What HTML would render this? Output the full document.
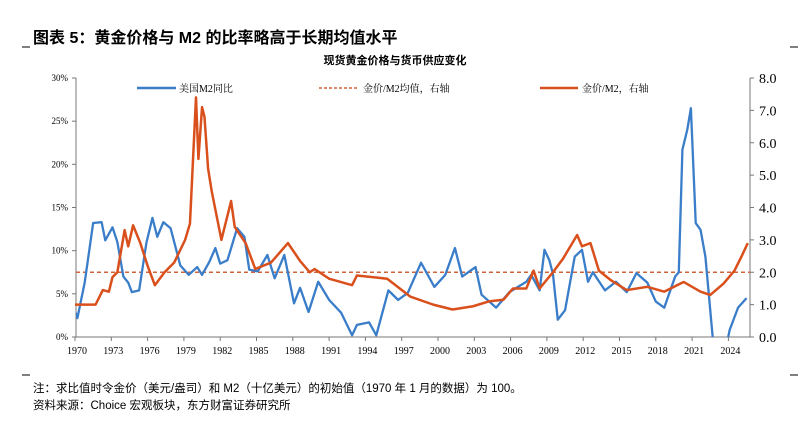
<!DOCTYPE html>
<html><head><meta charset="utf-8"><style>
body{margin:0;background:#fff;width:812px;height:422px;overflow:hidden;font-family:"Liberation Serif","Noto Serif CJK SC",serif}
svg{position:absolute;left:0;top:0}
</style></head><body>
<svg id="c" width="812" height="422">
<text x="33" y="43" font-size="16" font-weight="bold" font-family="Liberation Sans,Noto Sans CJK SC,sans-serif">图表 5：黄金价格与 M2 的比率略高于长期均值水平</text>
<line x1="22" y1="47" x2="30" y2="47" stroke="#000"/>
<line x1="790" y1="47" x2="798" y2="47" stroke="#000"/>
<text x="395" y="64" font-size="11" font-weight="bold" text-anchor="middle" font-family="Liberation Sans,Noto Sans CJK SC,sans-serif">现货黄金价格与货币供应变化</text>
<g>
<line x1="137" y1="88" x2="176" y2="88" stroke="#3a7dc9" stroke-width="2.5"/>
<text x="179" y="92" font-size="10">美国M2同比</text>
<line x1="319" y1="88" x2="358" y2="88" stroke="#d0653a" stroke-width="1.5" stroke-dasharray="3,2"/>
<text x="363" y="92" font-size="10">金价/M2均值，右轴</text>
<line x1="540" y1="88" x2="578" y2="88" stroke="#d9501c" stroke-width="2.5"/>
<text x="582" y="92" font-size="10">金价/M2，右轴</text>
</g>
<g id="plot"></g>
<line x1="22" y1="375" x2="30" y2="375" stroke="#000"/>
<line x1="790" y1="375" x2="798" y2="375" stroke="#000"/>
<text x="33" y="392" font-size="11.5" font-family="Liberation Sans,Noto Sans CJK SC,sans-serif">注：求比值时令金价（美元/盎司）和 M2（十亿美元）的初始值（1970 年 1 月的数据）为 100。</text>
<text x="33" y="409" font-size="11.5" font-family="Liberation Sans,Noto Sans CJK SC,sans-serif">资料来源：Choice 宏观板块，东方财富证券研究所</text>
</svg>
<script>
const xTicks=[1970,1973,1976,1979,1982,1985,1988,1991,1994,1997,2000,2003,2006,2009,2012,2015,2018,2021,2024];
const leftTicks=[0,5,10,15,20,25,30];
const rightTicks=[0,1,2,3,4,5,6,7,8];
const meanRatio=2.0;
const m2Years=[1970,1970.2,1970.8,1971.5,1972.2,1972.5,1973.1,1973.5,1974,1974.4,1974.7,1975.3,1975.9,1976.4,1976.8,1977.3,1977.9,1978.7,1979.4,1980.1,1980.5,1981.1,1981.6,1982,1982.6,1983.4,1984,1984.4,1985.1,1985.9,1986.5,1987.3,1988.1,1988.6,1989.3,1990.1,1991,1992,1992.9,1993.3,1994.3,1994.9,1995.9,1996.7,1997.5,1998.6,1999.7,2000.6,2001.4,2002,2003.1,2003.6,2004.8,2005.9,2007.3,2007.7,2008.4,2008.8,2009.2,2009.5,2009.9,2010.5,2011.3,2011.9,2012.4,2012.8,2013.8,2014.7,2015.6,2016.4,2017.3,2018,2018.7,2019.6,2019.9,2020.2,2020.6,2020.9,2021.3,2021.7,2022.1,2022.7,2023.2,2023.7,2024.1,2024.8,2025.5];
const m2Values=[3,2.2,6.3,13.2,13.3,11.2,12.7,11,7,6.3,5.2,5.4,10.9,13.8,11.6,13.3,12.6,8.3,7.2,8.1,7.2,8.7,10.3,8.5,8.9,12.6,11.6,7.8,7.6,9.5,6.8,9.5,3.9,5.7,2.9,6.4,4.3,2.8,0.2,1.4,1.7,0.2,5.4,4.3,5.1,8.6,5.8,7.2,10.3,7,8.1,4.9,3.4,5.2,6.4,7.2,5.4,10.1,8.9,7.3,2,3.1,9.3,10.1,6.4,7.5,5.4,6.4,5.2,7.4,6.3,4.1,3.4,7,7.5,21.7,24,26.5,13.2,12.4,9.3,0,-3,-2,0.8,3.4,4.5];
const ratioYears=[1970,1971.7,1972.3,1972.8,1973.1,1973.5,1974.1,1974.4,1974.8,1975.4,1976,1976.6,1977.4,1978.2,1979.1,1979.5,1980,1980.2,1980.5,1980.7,1981,1981.3,1982.1,1982.9,1983.2,1984.1,1984.9,1986.2,1987.6,1988.6,1989.4,1989.8,1991,1992.9,1993.3,1995.8,1997.7,1999.6,2001.2,2002.9,2004.2,2005.4,2006.2,2006.8,2007.3,2007.9,2008.4,2009.5,2010.3,2011.1,2011.5,2011.9,2012.6,2013.3,2014.3,2015.6,2017.3,2018.7,2020.3,2021.7,2022.5,2023.6,2024.5,2025.1,2025.6];
const ratioValues=[1.0,1.0,1.45,1.4,1.85,2.0,3.3,2.8,3.45,2.9,2.2,1.6,2.0,2.3,3.0,3.5,7.4,5.5,7.1,6.8,5.2,4.5,3.0,4.2,3.4,2.9,2.1,2.3,2.9,2.35,2.0,2.1,1.8,1.6,1.9,1.8,1.25,1.0,0.85,0.95,1.1,1.15,1.5,1.5,1.5,2.05,1.5,2.0,2.4,2.9,3.15,2.8,2.9,2.05,1.75,1.45,1.55,1.4,1.7,1.4,1.3,1.65,2.05,2.5,2.9];
const L=76,R=750,T=78,B=337;
const X=y=>75+(y-1970)*12.1;
const YL=v=>B-v/30*(B-T);
const YR=v=>B-v/8*(B-T);
const g=document.getElementById('plot');const NS='http://www.w3.org/2000/svg';
function mk(t,a,p){const e=document.createElementNS(NS,t);for(const k in a)e.setAttribute(k,a[k]);(p||g).appendChild(e);return e;}
const defs=mk('defs',{});const cp=mk('clipPath',{id:'clip'},defs);mk('rect',{x:L,y:T-10,width:R-L,height:B-T+10},cp);
let e;
e=mk('line',{x1:L,y1:T,x2:L,y2:B,stroke:'#777'});


e=mk('line',{x1:R,y1:T,x2:R,y2:B,stroke:'#777'});


e=mk('line',{x1:L,y1:B,x2:R,y2:B,stroke:'#777'});


leftTicks.forEach(v=>{mk('line',{x1:L-4,y1:YL(v),x2:L,y2:YL(v),stroke:'#777'});
e=mk('text',{x:L-8,y:YL(v)+3,'font-size':9,'text-anchor':'end'});e.textContent=v+'%';

});
rightTicks.forEach(v=>{mk('line',{x1:R,y1:YR(v),x2:R+4,y2:YR(v),stroke:'#777'});
e=mk('text',{x:R+9,y:YR(v)+5,'font-size':14});e.textContent=v.toFixed(1);

});
xTicks.forEach(v=>{mk('line',{x1:X(v),y1:B,x2:X(v),y2:B+4,stroke:'#777'});
e=mk('text',{x:X(v)+2,y:B+17,'font-size':10,'text-anchor':'middle'});e.textContent=v;

});
e=mk('line',{x1:L,y1:YR(meanRatio),x2:R,y2:YR(meanRatio),stroke:'#d0653a','stroke-width':1.5,'stroke-dasharray':'4,3'});


e=mk('polyline',{points:m2Years.map((y,i)=>X(y)+','+YL(m2Values[i])).join(' '),fill:'none',stroke:'#3a7dc9','stroke-width':2.3,'stroke-linejoin':'round','clip-path':'url(#clip)'});


e=mk('polyline',{points:ratioYears.map((y,i)=>X(y)+','+YR(ratioValues[i])).join(' '),fill:'none',stroke:'#d9501c','stroke-width':2.5,'stroke-linejoin':'round'});


</script>
</body></html>
